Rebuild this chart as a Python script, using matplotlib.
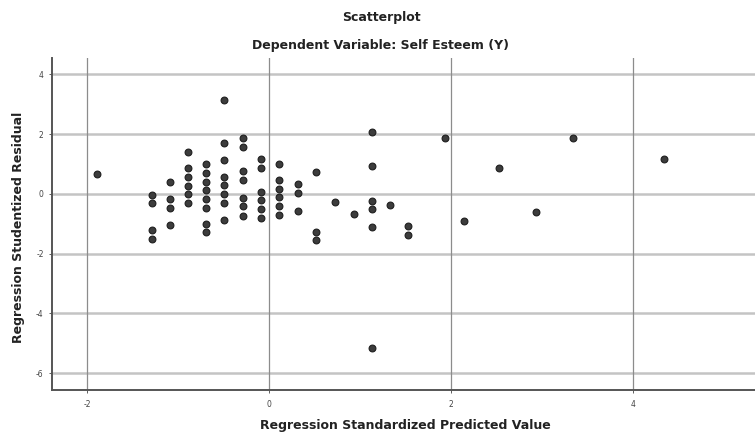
import matplotlib
matplotlib.use("Agg")
import matplotlib.pyplot as plt

plt.rcParams['font.family'] = ['DejaVu Sans']

# Columns of predicted values and the residuals stacked in each
pred_cols = [-1.89, -1.29, -1.09, -0.89, -0.69, -0.49, -0.29, -0.09, 0.11, 0.32,
             0.52, 0.72, 0.93, 1.13, 1.33, 1.53, 1.93, 2.14, 2.53, 2.93, 3.34, 4.34]
resid_cols = [
    [0.65],
    [-0.05, -0.32, -1.20, -1.50],
    [0.40, -0.18, -0.47, -1.05],
    [1.41, 0.85, 0.56, 0.27, -0.02, -0.32],
    [1.00, 0.71, 0.41, 0.12, -0.18, -0.47, -1.00, -1.28],
    [3.13, 1.71, 1.14, 0.58, 0.29, -0.01, -0.30, -0.87],
    [1.87, 1.57, 0.75, 0.45, -0.13, -0.41, -0.73],
    [1.16, 0.88, 0.05, -0.22, -0.52, -0.81],
    [1.01, 0.46, 0.17, -0.12, -0.41, -0.71],
    [0.32, 0.02, -0.57],
    [0.74, -1.26, -1.55],
    [-0.26],
    [-0.68],
    [2.08, 0.93, -0.23, -0.51, -1.10, -5.14],
    [-0.38],
    [-1.08, -1.38],
    [1.86],
    [-0.92],
    [0.87],
    [-0.60],
    [1.86],
    [1.18],
]

x_vals = []
y_vals = []
for xv, col in zip(pred_cols, resid_cols):
    for yv in col:
        x_vals.append(xv)
        y_vals.append(yv)

x_ticks = [-2, 0, 2, 4]
y_ticks = [-6, -4, -2, 0, 2, 4]

fig = plt.figure(figsize=(7.55, 4.34), dpi=100)
ax = fig.add_axes([52 / 755, 1 - 390 / 434, 1 - 52 / 755, (390 - 58) / 434])

ax.set_xlim(-2.384, 5.34)
ax.set_ylim(-6.56, 4.545)

for yt in y_ticks:
    ax.axhline(yt, color='#c4c4c4', lw=1.8, zorder=1)
for xt in x_ticks:
    ax.axvline(xt, color='#8c8c8c', lw=0.9, zorder=1)

ax.scatter(x_vals, y_vals, s=24, facecolor='#3c3c3c', edgecolor='#1e1e1e',
           linewidths=0.8, zorder=3)

ax.set_xticks(x_ticks)
ax.set_yticks(y_ticks)
ax.set_xticklabels([str(t) for t in x_ticks])
ax.set_yticklabels([str(t) for t in y_ticks])
ax.tick_params(axis='both', labelsize=5.5, colors='#444444', length=2, width=0.6)
ax.tick_params(axis='x', pad=5)
ax.tick_params(axis='y', pad=4)

for s in ['top', 'right']:
    ax.spines[s].set_visible(False)
for s in ['left', 'bottom']:
    ax.spines[s].set_color('#555555')
    ax.spines[s].set_linewidth(1.4)

fs = 9
fig.text(381 / 755, 1 - 18 / 434, 'Scatterplot', ha='center', va='center',
         fontsize=fs, fontweight='bold', color='#222222')
fig.text(380 / 755, 1 - 46 / 434, 'Dependent Variable: Self Esteem (Y)', ha='center',
         va='center', fontsize=fs, fontweight='bold', color='#222222')
fig.text(405 / 755, 1 - 426 / 434, 'Regression Standardized Predicted Value',
         ha='center', va='center', fontsize=fs, fontweight='bold', color='#222222')
fig.text(19 / 755, 1 - 227 / 434, 'Regression Studentized Residual', ha='center',
         va='center', rotation=90, fontsize=fs, fontweight='bold', color='#222222')

fig.savefig('out.png', dpi=100)
